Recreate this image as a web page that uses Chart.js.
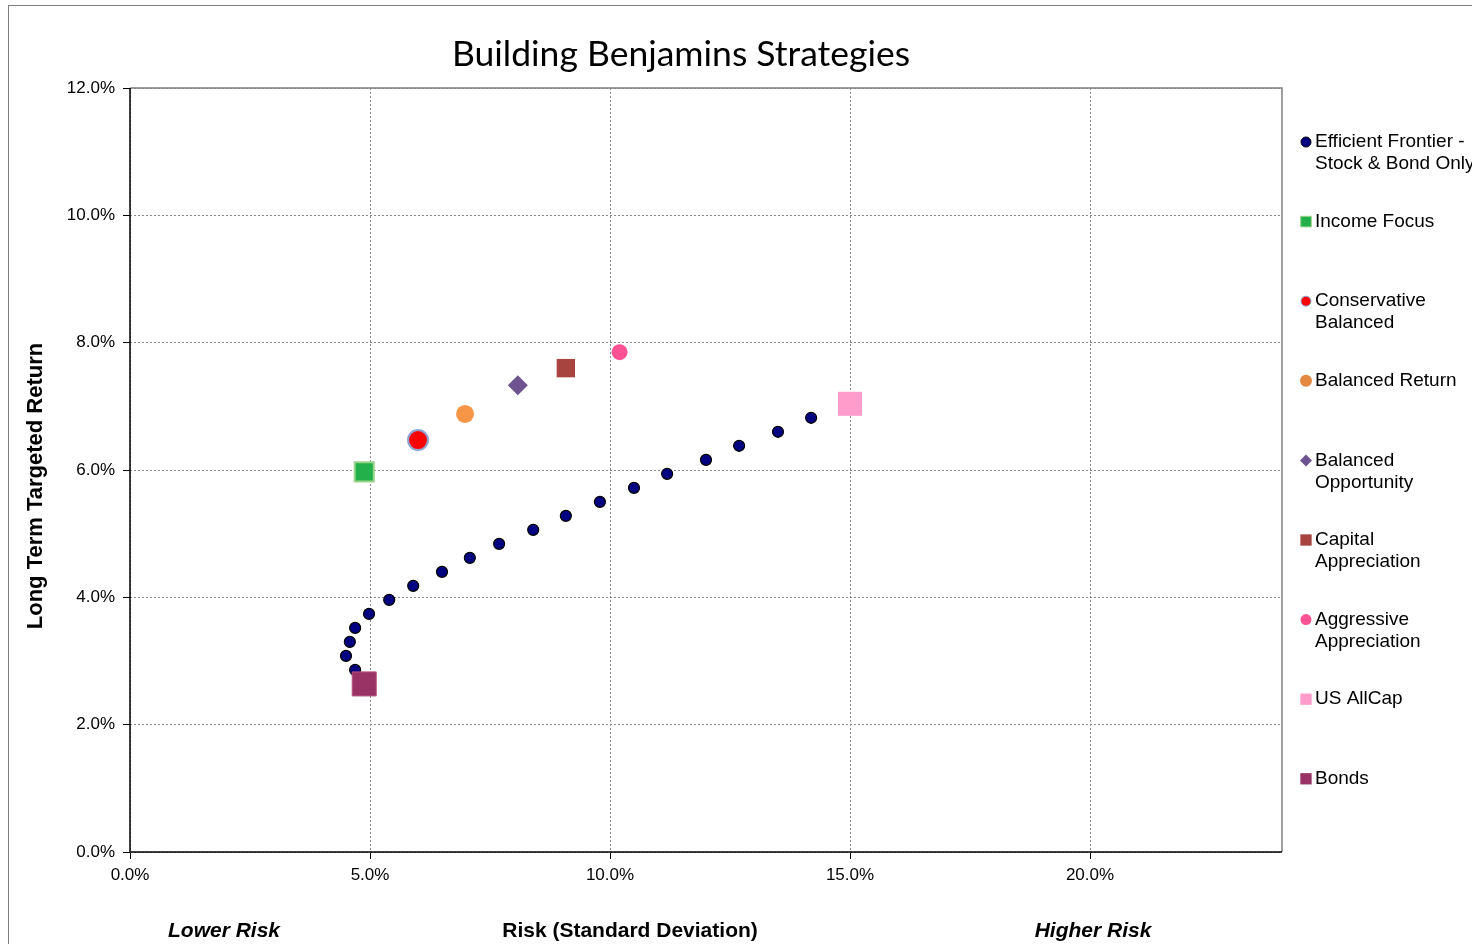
<!DOCTYPE html>
<html>
<head>
<meta charset="utf-8">
<script src="https://cdn.jsdelivr.net/npm/chart.js@4.4.1/dist/chart.umd.min.js"></script>
<style>
  html, body { margin: 0; padding: 0; background: #fff; }
  #wrap { position: relative; width: 1472px; height: 944px; overflow: hidden; }
  #frame { position: absolute; left: 8px; top: 5px; width: 1500px; height: 1000px; border: 1px solid #7f7f7f; }
  canvas { position: absolute; left: 0; top: 0; }
</style>
</head>
<body>
<div id="wrap">
  <div id="frame"></div>
  <canvas id="chart" width="1472" height="944"></canvas>
</div>
<script>
// Efficient frontier (risk %, return %)
const frontierRisk = [4.69, 4.50, 4.58, 4.69, 4.98, 5.40, 5.90, 6.50, 7.08, 7.69, 8.40, 9.08, 9.79, 10.50, 11.19, 12.00, 12.69, 13.50, 14.19];
const frontierReturn = [2.86, 3.08, 3.30, 3.52, 3.74, 3.96, 4.18, 4.40, 4.62, 4.84, 5.06, 5.28, 5.50, 5.72, 5.94, 6.16, 6.38, 6.60, 6.82];

// Strategy points
const strategyNames = ['Income Focus', 'Conservative Balanced', 'Balanced Return', 'Balanced Opportunity',
    'Capital Appreciation', 'Aggressive Appreciation', 'US AllCap', 'Bonds'];
const strategyRisk = [4.88, 6.00, 6.98, 8.08, 9.08, 10.20, 15.00, 4.88];
const strategyReturn = [5.97, 6.47, 6.88, 7.33, 7.60, 7.85, 7.04, 2.64];

// Axis ticks
const xTicks = [0, 5, 10, 15, 20];
const yTicks = [0, 2, 4, 6, 8, 10, 12];

// Marker styles per strategy (same order as strategyNames)
const strategyStyles = [
    { pointStyle: 'rect', radius: 13.5, bg: '#23b04a', border: '#9bd38a', bw: 2 },
    { pointStyle: 'circle', radius: 10, bg: '#ff0000', border: '#8ea6d4', bw: 2 },
    { pointStyle: 'circle', radius: 9, bg: '#f79646', border: '#f79646', bw: 0 },
    { pointStyle: 'rectRot', radius: 10, bg: '#6e5391', border: '#6e5391', bw: 0 },
    { pointStyle: 'rect', radius: 13, bg: '#a8443f', border: '#a8443f', bw: 0 },
    { pointStyle: 'circle', radius: 8, bg: '#ff5294', border: '#ff5294', bw: 0 },
    { pointStyle: 'rect', radius: 17, bg: '#ff9ccc', border: '#ff9ccc', bw: 0 },
    { pointStyle: 'rect', radius: 17, bg: '#993366', border: '#b5557f', bw: 1 }
];

// Legend entries (multi-line labels)
const legendLabels = [
    ['Efficient Frontier -', 'Stock & Bond Only'],
    ['Income Focus'],
    ['Conservative', 'Balanced'],
    ['Balanced Return'],
    ['Balanced', 'Opportunity'],
    ['Capital', 'Appreciation'],
    ['Aggressive', 'Appreciation'],
    ['US AllCap'],
    ['Bonds']
];
const legendMarkers = [
    { pointStyle: 'circle', radius: 5, bg: '#000080', border: '#000000', bw: 1 },
    { pointStyle: 'rect', radius: 7.5, bg: '#23b04a', border: '#9bd38a', bw: 1 },
    { pointStyle: 'circle', radius: 5, bg: '#ff0000', border: '#8ea6d4', bw: 1 },
    { pointStyle: 'circle', radius: 6, bg: '#e3883f', border: '#e3883f', bw: 0 },
    { pointStyle: 'rectRot', radius: 6, bg: '#6e5391', border: '#6e5391', bw: 0 },
    { pointStyle: 'rect', radius: 8, bg: '#a8443f', border: '#a8443f', bw: 0 },
    { pointStyle: 'circle', radius: 5.5, bg: '#ff5294', border: '#ff5294', bw: 0 },
    { pointStyle: 'rect', radius: 8, bg: '#ff9ccc', border: '#ff9ccc', bw: 0 },
    { pointStyle: 'rect', radius: 8, bg: '#993366', border: '#993366', bw: 0 }
];

const datasets = [{
    label: 'Efficient Frontier - Stock & Bond Only',
    data: frontierRisk.map((x, i) => ({ x, y: frontierReturn[i] })),
    pointStyle: 'circle',
    pointRadius: 5.5,
    backgroundColor: '#000080',
    borderColor: '#000000',
    borderWidth: 1.2,
    showLine: false
}];
strategyNames.forEach((name, i) => {
    const s = strategyStyles[i];
    datasets.push({
        label: name,
        data: [{ x: strategyRisk[i], y: strategyReturn[i] }],
        pointStyle: s.pointStyle,
        pointRadius: s.radius,
        backgroundColor: s.bg,
        borderColor: s.border,
        borderWidth: s.bw,
        showLine: false
    });
});
// strategies drawn above the frontier dots
datasets.forEach((d, i) => { d.order = i === 0 ? 1 : 0; });

const AXIS_FONT = 'Liberation Sans, Arial, sans-serif';

// Frame, axis titles and legend
const decorPlugin = {
    id: 'decor',
    beforeDatasetsDraw(chart) {
        const { ctx, chartArea: a } = chart;
        ctx.save();
        ctx.strokeStyle = '#808080';
        ctx.lineWidth = 1.5;
        ctx.beginPath();
        ctx.moveTo(a.left, a.top);
        ctx.lineTo(a.right, a.top);
        ctx.lineTo(a.right, a.bottom);
        ctx.stroke();
        ctx.strokeStyle = '#000';
        ctx.beginPath();
        ctx.moveTo(a.left, a.top);
        ctx.lineTo(a.left, a.bottom);
        ctx.lineTo(a.right, a.bottom);
        ctx.stroke();
        ctx.restore();
    },
    afterDraw(chart) {
        const { ctx } = chart;
        ctx.save();
        ctx.fillStyle = '#000';
        // Title
        ctx.font = '35.5px Lato, "Open Sans", sans-serif';
        ctx.textAlign = 'center';
        ctx.textBaseline = 'middle';
        ctx.fillText('Building Benjamins Strategies', 681, 55);
        // Y title
        ctx.font = 'bold 22px ' + AXIS_FONT;
        ctx.save();
        ctx.translate(36, 486);
        ctx.rotate(-Math.PI / 2);
        ctx.fillText('Long Term Targeted Return', 0, 0);
        ctx.restore();
        // X titles
        ctx.font = 'bold 21px ' + AXIS_FONT;
        ctx.fillText('Risk (Standard Deviation)', 630, 931);
        ctx.font = 'italic bold 21px ' + AXIS_FONT;
        ctx.fillText('Lower Risk', 224, 931);
        ctx.fillText('Higher Risk', 1093, 931);
        // Legend
        ctx.font = '19px ' + AXIS_FONT;
        ctx.textAlign = 'left';
        legendLabels.forEach((lines, i) => {
            const y = 142 + i * 79.6;
            const m = legendMarkers[i];
            ctx.save();
            ctx.fillStyle = m.bg;
            ctx.strokeStyle = m.border;
            ctx.lineWidth = m.bw;
            Chart.helpers.drawPoint(ctx, { pointStyle: m.pointStyle, radius: m.radius, borderWidth: m.bw, rotation: 0 }, 1306, y);
            ctx.restore();
            ctx.fillStyle = '#000';
            lines.forEach((t, k) => ctx.fillText(t, 1315, y + k * 22));
        });
        ctx.restore();
    }
};

const ctx = document.getElementById('chart').getContext('2d');
new Chart(ctx, {
    type: 'scatter',
    data: { datasets },
    options: {
        responsive: false,
        animation: false,
        layout: { padding: { left: 0, top: 88, right: 190, bottom: 0 } },
        plugins: {
            legend: { display: false },
            tooltip: { enabled: false }
        },
        scales: {
            x: {
                type: 'linear',
                min: 0,
                max: 24,
                afterBuildTicks: s => { s.ticks = xTicks.map(v => ({ value: v })); },
                afterFit: s => { s.height = 92; },
                ticks: {
                    callback: v => v.toFixed(1) + '%',
                    color: '#000',
                    font: { family: AXIS_FONT, size: 17 },
                    padding: 6,
                    maxRotation: 0
                },
                grid: { color: '#8c8c8c', lineWidth: 1, tickLength: 7, tickColor: '#000' },
                border: { display: false, dash: [2, 2] }
            },
            y: {
                type: 'linear',
                min: 0,
                max: 12,
                afterBuildTicks: s => { s.ticks = yTicks.map(v => ({ value: v })); },
                afterFit: s => { s.width = 130; },
                ticks: {
                    callback: v => v.toFixed(1) + '%',
                    color: '#000',
                    font: { family: AXIS_FONT, size: 17 },
                    padding: 8
                },
                grid: { color: '#8c8c8c', lineWidth: 1, tickLength: 7, tickColor: '#000' },
                border: { display: false, dash: [2, 2] }
            }
        }
    },
    plugins: [decorPlugin]
});
</script>
</body>
</html>
